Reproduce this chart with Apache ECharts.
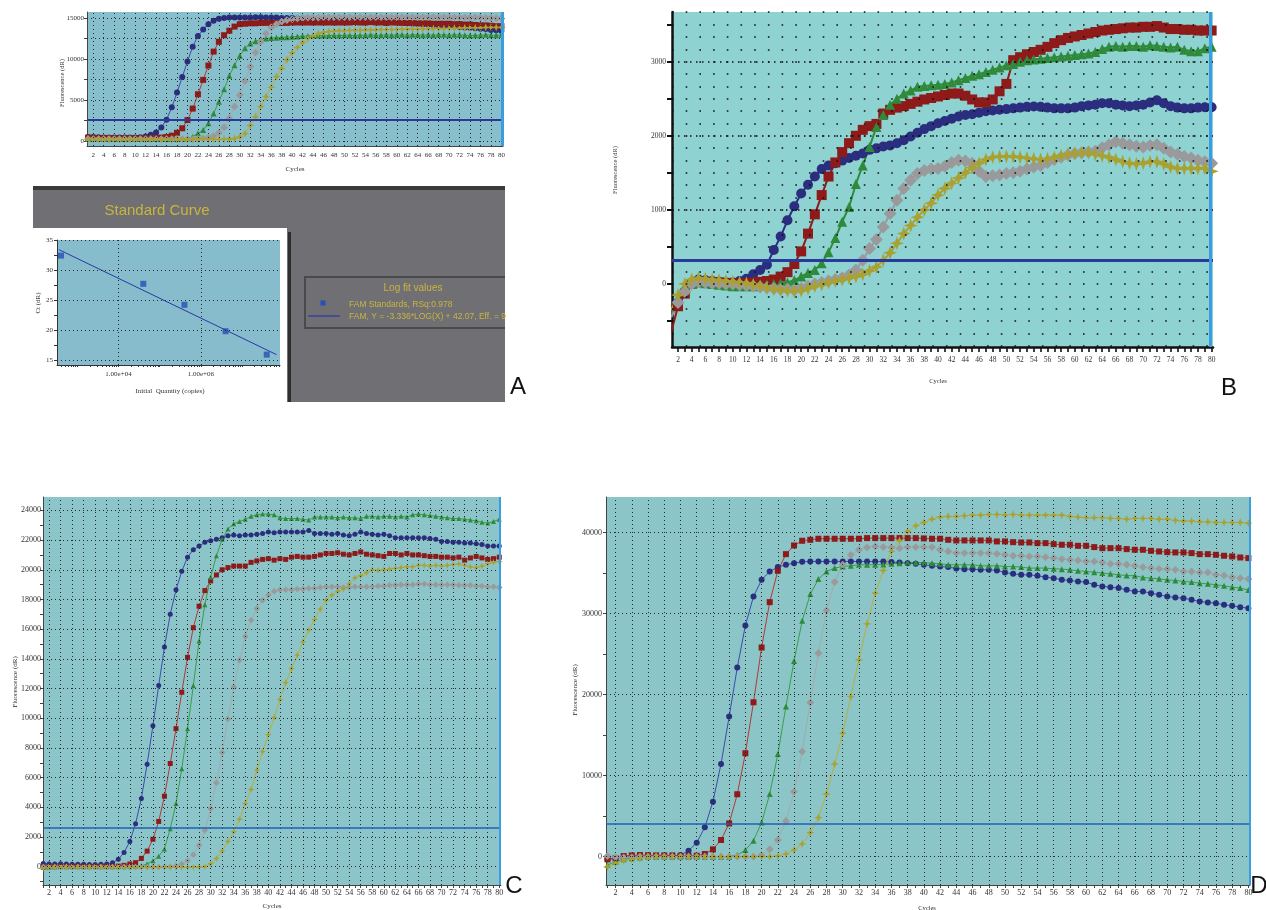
<!DOCTYPE html>
<html><head><meta charset="utf-8">
<script src="https://cdn.jsdelivr.net/npm/echarts@6/dist/echarts.min.js"></script>
<style>html,body{margin:0;padding:0;background:#fff}#c{width:1266px;height:910px}</style>
</head><body><div id="c"></div>
<script>
const cycles = Array.from({length: 80}, (_, i) => i + 1);

// ---------- Panel A (amplification) ----------
const aBlue = [500,480,450,430,420,420,420,420,430,440, 460,550,750,1050,1650,2600,4100,5900,7800,9700, 11500,12800,13600,14250,14650,14900,15000,15050,15050,15050, 15050,15050,15100,15100,15050,15050,15050,15000,15000,15000, 14950,14950,14950,14900,14900,14900,14850,14850,14800,14800, 14750,14700,14700,14650,14600,14600,14550,14500,14500,14450, 14400,14350,14300,14300,14250,14200,14150,14100,14050,14000, 13950,13900,13850,13800,13750,13700,13650,13550,13500,13450];
const aRed = [400,380,360,350,340,330,330,330,330,330, 330,340,350,380,420,480,650,1000,1550,2550, 3950,5700,7450,9200,10900,12100,12900,13450,13950,14250, 14300,14350,14350,14400,14400,14400,14400,14400,14400,14450, 14450,14450,14450,14450,14450,14450,14450,14450,14450,14450, 14450,14500,14450,14450,14500,14450,14450,14400,14450,14450, 14400,14400,14400,14350,14350,14350,14300,14300,14300,14300, 14250,14250,14200,14200,14150,14100,14100,14050,14000,14000];
const aGreen = [300,280,260,250,240,240,240,240,240,240, 240,240,240,240,240,240,240,250,260,300, 530,930,1350,2150,3350,4800,6300,7950,9250,10400, 11300,11900,12150,12400,12500,12550,12600,12650,12650,12700, 12750,12800,12800,12850,12850,12850,12850,12900,12850,12900, 12900,12850,12900,12900,12950,12900,12900,12950,12900,12950, 12950,12900,12950,12950,12900,12950,12900,12950,12950,12900, 12950,12950,12900,12850,12900,12900,12950,12900,12900,12950];
const aGray = [250,240,230,230,230,230,230,230,230,230, 230,230,230,230,230,230,230,230,230,230, 240,260,300,400,600,1000,1650,2750,4200,5600, 7300,9050,10800,12100,13100,13850,14250,14550,14750,14850, 14950,15000,15050,15050,15050,15100,15100,15100,15100,15100, 15100,15100,15100,15100,15100,15100,15100,15100,15100,15100, 15100,15100,15100,15100,15100,15100,15100,15100,15100,15100, 15050,15050,15050,15050,15050,15050,15000,15000,14950,14950];
const aYellow = [200,200,200,200,200,200,200,200,200,200, 200,200,200,200,200,200,200,200,200,200, 200,200,200,200,200,200,210,230,300,500, 900,1900,2950,4200,5400,6550,7850,8850,9900,10750, 11400,12000,12500,12800,13100,13250,13350,13400,13450,13450, 13500,13500,13500,13550,13550,13550,13600,13600,13600,13600, 13650,13650,13650,13650,13700,13700,13700,13700,13700,13750, 13750,13750,13800,13800,13800,13800,13850,13850,13850,13850];

// ---------- Panel A (standard curve) ----------
const stdQuantity = [400, 40000, 400000, 4000000, 40000000];
const stdCt = [32.4, 27.7, 24.2, 19.8, 15.9];
const fitQuantity = [355, 69000000];
const fitCt = [33.4, 15.9];

// ---------- Panel B ----------
const bBlue = [-450,-250,-100,20,60,50,40,30,20,20, 40,70,130,190,260,460,640,860,1050,1220, 1340,1450,1550,1600,1630,1665,1700,1730,1760,1810, 1830,1855,1870,1900,1940,1990,2040,2090,2130,2170, 2200,2230,2260,2280,2290,2310,2330,2340,2350,2360, 2370,2380,2390,2395,2390,2380,2370,2370,2370,2380, 2400,2410,2420,2440,2440,2420,2410,2400,2410,2420, 2450,2480,2440,2400,2380,2370,2370,2380,2385,2385];
const bRed = [-650,-300,-130,0,30,30,20,20,15,10, 5,10,20,30,40,60,100,160,270,440, 680,940,1200,1450,1640,1780,1900,2000,2080,2130, 2160,2300,2350,2380,2400,2430,2460,2490,2510,2530, 2550,2570,2570,2540,2490,2450,2450,2490,2600,2700, 3020,3060,3100,3130,3160,3200,3250,3290,3320,3340, 3360,3380,3400,3420,3430,3440,3450,3460,3460,3470, 3470,3480,3460,3440,3440,3430,3430,3420,3420,3420];
const bGreen = [-400,-200,-80,0,20,10,0,-10,-20,-30, -30,-30,-30,-20,-10,0,10,20,50,100, 150,190,280,430,620,840,1040,1350,1600,1850, 2120,2280,2420,2500,2570,2610,2660,2670,2680,2690, 2700,2720,2750,2780,2810,2830,2860,2890,2920,2950, 2970,3000,3020,3030,3040,3050,3060,3070,3080,3090, 3100,3110,3130,3170,3200,3210,3200,3210,3210,3200, 3220,3210,3200,3190,3200,3160,3140,3140,3180,3200];
const bGray = [-450,-250,-100,0,30,20,10,10,0,0, -10,-20,-30,-40,-50,-60,-70,-70,-80,-60, -30,0,20,40,60,80,120,190,320,480, 600,770,950,1130,1290,1400,1490,1530,1550,1560, 1590,1640,1670,1660,1630,1520,1450,1460,1470,1490, 1500,1520,1550,1580,1600,1640,1680,1710,1740,1760, 1770,1780,1790,1840,1880,1920,1900,1880,1860,1850, 1870,1880,1830,1780,1750,1720,1700,1670,1650,1630];
const bYellow = [-350,-150,0,60,80,70,60,50,40,30, 20,10,-10,-30,-50,-70,-80,-90,-100,-90, -60,-30,-10,20,40,60,80,100,130,180, 230,320,420,550,680,790,900,1000,1090,1200, 1290,1360,1430,1500,1570,1630,1680,1710,1720,1720, 1720,1710,1700,1690,1680,1690,1710,1730,1750,1760, 1770,1770,1750,1730,1710,1680,1650,1630,1620,1630, 1650,1650,1620,1580,1560,1560,1560,1560,1560,1520];

// ---------- Panel C ----------
const cBlue = [220,180,180,200,180,170,160,160,150,150, 160,180,270,500,950,1700,2900,4600,6900,9500, 12200,14800,17000,18650,19900,20850,21350,21600,21850,21950, 22050,22150,22300,22350,22300,22350,22350,22400,22450,22550, 22500,22550,22550,22550,22550,22550,22650,22450,22450,22450, 22400,22450,22350,22300,22400,22550,22450,22400,22350,22400, 22300,22150,22150,22150,22150,22150,22150,22100,22050,21900, 21900,21850,21850,21800,21800,21750,21700,21600,21600,21600];
const cRed = [0,30,30,30,30,30,30,30,30,30, 30,30,30,40,90,180,270,560,1050,1850, 3050,4750,6950,9300,11750,14100,16100,17550,18600,19250, 19650,20000,20150,20250,20250,20250,20500,20600,20700,20750, 20650,20750,20700,20850,20900,20850,20850,20900,21000,21100, 21100,21150,21050,21000,21100,21200,21050,21000,20950,20900, 21100,21100,21000,21100,21000,21000,20950,20900,20900,20850, 20850,20800,20850,20650,20800,20900,20800,20700,20750,20850];
const cGreen = [-50,-30,-20,0,0,0,0,0,0,0, 0,0,0,0,0,0,20,60,180,400, 700,1200,2550,4250,6600,9300,12200,15200,17650,19500, 20950,22050,22750,23100,23250,23400,23600,23700,23750,23750, 23700,23500,23450,23450,23450,23400,23350,23550,23550,23550, 23550,23500,23550,23500,23500,23450,23600,23600,23550,23600, 23600,23550,23600,23550,23700,23750,23700,23650,23600,23550, 23500,23450,23450,23400,23350,23300,23200,23150,23250,23400];
const cGray = [-20,-20,-20,-20,-20,-20,-20,-20,-20,-20, -20,-20,-20,-20,-20,-20,-20,-20,-20,-20, -20,-20,0,50,180,400,800,1450,2450,3900, 5650,7700,9950,12100,13900,15500,16600,17400,17950,18300, 18550,18650,18650,18650,18700,18700,18750,18750,18800,18850, 18850,18850,18800,18800,18850,18850,18850,18850,18900,18900, 18950,18950,19000,19000,19000,19050,19050,19000,19000,19000, 19000,19000,18950,18950,18950,18900,18900,18850,18850,18800];
const cYellow = [-100,-60,-50,-40,-40,-40,-40,-40,-40,-40, -40,-40,-40,-40,-40,-40,-40,-40,-40,-40, -40,-40,-40,-40,-40,-40,-30,-20,0,200, 550,1050,1700,2350,3200,4250,5200,6500,7750,8900, 10050,11250,12400,13350,14250,15150,15950,16650,17350,17950, 18300,18550,18700,19050,19450,19600,19800,20000,19950,20000, 20050,20100,20150,20200,20200,20300,20300,20250,20300,20250, 20300,20350,20400,20300,20200,20150,20250,20400,20500,20550];

// ---------- Panel D ----------
const dBlue = [-330,-200,-80,0,80,80,80,80,80,200, 740,1730,3620,6790,11440,17280,23330,28520,32100,34150, 35180,35720,36010,36210,36380,36420,36420,36420,36420,36420, 36420,36420,36420,36400,36400,36350,36300,36210,36130,36010, 35880,35800,35720,35550,35470,35470,35390,35390,35310,35060, 34890,34770,34770,34650,34480,34360,34150,34070,33950,33870, 33540,33330,33250,33130,32920,32710,32710,32510,32300,32100, 31970,31890,31690,31480,31360,31270,31070,30950,30780,30660];
const dRed = [-330,-200,80,160,200,180,160,160,160,80, 80,120,330,900,2060,4100,7700,12760,19050,25800, 31400,35270,37320,38390,38970,39090,39220,39220,39220,39220, 39220,39220,39300,39300,39300,39300,39300,39300,39300,39260, 39220,39220,39090,39010,39010,39010,39010,39010,38890,38890, 38800,38760,38760,38680,38680,38560,38480,38480,38350,38350, 38190,38060,38060,38060,37940,37860,37860,37730,37650,37570, 37530,37530,37450,37320,37320,37240,37120,37040,36910,36830];
const dGreen = [-1030,-620,-330,-200,-100,0,0,0,0,0, 0,0,0,0,0,0,200,820,1975,4200, 7740,12670,18520,24150,29090,32390,34240,35180,35600,35800, 35880,36010,36010,36010,36050,36130,36210,36290,36290,36290, 36210,36130,36010,36010,36010,36010,35880,35880,35880,35800, 35800,35720,35600,35600,35600,35510,35470,35390,35270,35180, 35100,34980,34890,34770,34690,34650,34440,34360,34280,34150, 34070,33950,33870,33740,33660,33540,33410,33250,33130,32900];
const dGray = [80,-80,-100,-80,0,0,0,0,0,0, 0,0,0,0,0,0,0,0,0,200, 900,2060,4400,8020,12960,19010,25100,30370,33870,36010, 37240,37860,38150,38270,38190,38150,38060,38190,38190,38190, 38190,37860,37650,37450,37450,37450,37450,37450,37360,37240, 37120,37120,37040,37040,36950,36830,36710,36620,36540,36420, 36420,36290,36130,36130,36010,35880,35720,35600,35510,35470, 35390,35180,35180,35060,35060,34770,34690,34480,34360,34240];
const dYellow = [-1230,-820,-490,-330,-200,-100,0,0,0,0, 0,0,0,0,0,0,0,0,0,0, 0,80,330,820,1560,2960,4810,7740,11440,15230, 19750,24280,28720,32510,35310,37650,39010,40120,40820,41230, 41640,41890,41970,41970,42060,42140,42140,42220,42220,42140, 42220,42140,42140,42140,42140,42140,42140,41970,41890,41810, 41810,41810,41730,41730,41640,41730,41730,41730,41640,41640, 41480,41400,41400,41310,41310,41230,41230,41230,41230,41150];

// thresholds (A, B, C, D)
const thresholds = [2560, 324, 2650, 4120];
const xTickLabels = [2,4,6,8,10,12,14,16,18,20,22,24,26,28,30,32,34,36,38,40,42,44,46,48,50,52,54,56,58,60,62,64,66,68,70,72,74,76,78,80];
const yLabelsA = [0, 5000, 10000, 15000];
const yLabelsB = [0, 1000, 2000, 3000];
const yLabelsC = [0,2000,4000,6000,8000,10000,12000,14000,16000,18000,20000,22000,24000];
const yLabelsD = [0, 10000, 20000, 30000, 40000];
const stdYLabels = [15, 20, 25, 30, 35];
const stdXLabels = [10000, 1000000];

// ---------- styling ----------
const FONT = '"Liberation Serif", "DejaVu Serif", serif';
const SANS = '"Liberation Sans", Arial, sans-serif';
const STAR = 'path://M0,-10L2.6,-2.6L10,0L2.6,2.6L0,10L-2.6,2.6L-10,0L-2.6,-2.6Z';
const SYM = {blue:'circle', red:'rect', green:'triangle', gray:'diamond', yellow:STAR};
const MCOL = {blue:'#2b2d7e', red:'#8e1a1a', green:'#2f8b3b', gray:'#9a9a9c', yellow:'#a9a132'};
const LCOL = {blue:'#3b4bb0', red:'#b33838', green:'#36a045', gray:'#a8a8a8', yellow:'#b8b03c'};

function range(a, b, s) { const r = []; for (let v = a; v <= b + 1e-9; v += s) r.push(Math.round(v * 1000) / 1000); return r; }

const panels = [
  { grid:{left:87, top:12, width:416, height:134}, bg:'#88bfcc', x:[0.8, 80.3], y:[-610, 15730],
    yLabels:yLabelsA, yTicks:range(0,15000,2500), yGrid:range(0,15000,2500), xGrid:range(2,78,2),
    xTicks:[], xTickLen:0, yTickLen:3, fs:7, xMargin:6, yMargin:3, axisW:1, axisCol:'#444',
    dash:[1,3], dotCol:'#2a2a2a', thr:thresholds[0], thrCol:'#2a3a9a', thrW:2, cursor:80.25, cursorW:3,
    size:6, lw:1, data:{blue:aBlue, red:aRed, green:aGreen, gray:aGray, yellow:aYellow} },
  { grid:{left:672, top:12, width:541, height:335}, bg:'#8fd2d2', x:[1.12, 80.2], y:[-850, 3670],
    yLabels:yLabelsB, yTicks:range(-500,3500,500), yGrid:range(-5,22,1).map(k => k*1000/6), xGrid:[],
    xTicks:range(1,80,1), xTickLen:5, yTickLen:5, fs:7.5, xMargin:9, yMargin:6, axisW:2.5, axisCol:'#111',
    dash:[1.6,12.1], dotCol:'#111', thr:thresholds[1], thrCol:'#2a3a9a', thrW:3, cursor:79.8, cursorW:3,
    size:10, lw:2, data:{blue:bBlue, red:bRed, green:bGreen, gray:bGray, yellow:bYellow} },
  { grid:{left:43, top:497, width:458, height:388}, bg:'#8bc5c9', x:[0.96, 80.3], y:[-1233, 24903],
    yLabels:yLabelsC, yTicks:range(-1000,24000,1000), yGrid:range(0,24000,2000), xGrid:range(2,78,2),
    xTicks:range(1,80,1), xTickLen:3, yTickLen:3, fs:8, xMargin:4, yMargin:2, axisW:1, axisCol:'#444',
    dash:[1,3], dotCol:'#2a2a2a', thr:thresholds[2], thrCol:'#2060b5', thrW:1.6, cursor:80.1, cursorW:2,
    size:5, lw:1, data:{blue:cBlue, red:cRed, green:cGreen, gray:cGray, yellow:cYellow} },
  { grid:{left:606, top:497, width:644, height:388}, bg:'#8bc5c7', x:[0.82, 80.2], y:[-3495, 44370],
    yLabels:yLabelsD, yTicks:range(0,40000,5000), yGrid:range(0,40000,10000), xGrid:range(2,78,2),
    xTicks:range(1,80,1), xTickLen:3, yTickLen:3, fs:8, xMargin:4, yMargin:4, axisW:1, axisCol:'#444',
    dash:[1,3], dotCol:'#2a2a2a', thr:thresholds[3], thrCol:'#2060b5', thrW:1.6, cursor:80.15, cursorW:2,
    size:6, lw:1, data:{blue:dBlue, red:dRed, green:dGreen, gray:dGray, yellow:dYellow} }
];

const grids = [], xAxes = [], yAxes = [], series = [];
const plain = v => String(v);

panels.forEach((p, gi) => {
  grids.push(Object.assign({show:true, backgroundColor:p.bg, borderWidth:0, outerBoundsMode:'none'}, p.grid));
  xAxes.push({type:'value', gridIndex:gi, min:p.x[0], max:p.x[1],
    axisLine:{show:true, onZero:false, lineStyle:{color:p.axisCol, width:p.axisW}},
    axisTick:{show:p.xTickLen > 0, customValues:p.xTicks, length:p.xTickLen, lineStyle:{color:p.axisCol, width:gi===1?1.6:1}},
    axisLabel:{customValues:xTickLabels, formatter:plain, fontFamily:FONT, fontSize:p.fs, color:'#333', margin:p.xMargin, hideOverlap:false},
    splitLine:{show:false}});
  yAxes.push({type:'value', gridIndex:gi, min:p.y[0], max:p.y[1],
    axisLine:{show:true, onZero:false, lineStyle:{color:p.axisCol, width:p.axisW}},
    axisTick:{show:true, customValues:p.yTicks, length:p.yTickLen, lineStyle:{color:p.axisCol, width:gi===1?2:1}},
    axisLabel:{customValues:p.yLabels, formatter:plain, fontFamily:FONT, fontSize:p.fs, color:'#333', margin:p.yMargin, hideOverlap:false},
    splitLine:{show:false}});
  const ml = [];
  const dot = {type:p.dash, color:p.dotCol, width:gi===1?1.6:1};
  p.yGrid.forEach(v => ml.push({yAxis:v, lineStyle:dot}));
  p.xGrid.forEach(v => ml.push({xAxis:v, lineStyle:dot}));
  if (gi === 1) [1000,2000,3000].forEach(v => ml.push({yAxis:v, lineStyle:{type:[1.5,4.5], color:'#111', width:1.5}}));
  ml.push({yAxis:p.thr, lineStyle:{type:'solid', color:p.thrCol, width:p.thrW}});
  ml.push({xAxis:p.cursor, lineStyle:{type:'solid', color:'#3a9de0', width:p.cursorW}});
  series.push({type:'line', xAxisIndex:gi, yAxisIndex:gi, data:[], z:1, silent:true,
    markLine:{silent:true, symbol:['none','none'], label:{show:false}, animation:false, emphasis:{disabled:true}, data:ml}});
  ['blue','red','green','gray','yellow'].forEach(k => {
    const sz = k === 'gray' ? p.size * 1.3 : k === 'yellow' ? p.size * 1.4 : p.size;
    series.push({type:'line', xAxisIndex:gi, yAxisIndex:gi, silent:true, z:3,
      data:cycles.map((c, i) => [c, p.data[k][i]]),
      symbol:SYM[k], symbolSize:sz, showAllSymbol:true,
      itemStyle:{color:MCOL[k]}, lineStyle:{color:gi===1?MCOL[k]:LCOL[k], width:p.lw}});
  });
});

// standard curve grid (index 4)
const SG = 4;
grids.push({show:true, left:57, top:240, width:223, height:125, backgroundColor:'#86bccb', borderWidth:0, outerBoundsMode:'none'});
const minorLog = [];
[2,3,4,5,6,7].forEach(d => { for (let k = 1; k <= 9; k++) { const v = k * Math.pow(10, d); if (v >= 320 && v <= 8.4e7) minorLog.push(v); } });
xAxes.push({type:'log', logBase:10, gridIndex:SG, min:320, max:8.4e7,
  axisLine:{show:true, onZero:false, lineStyle:{color:'#333', width:1}},
  axisTick:{show:true, customValues:minorLog, length:2, lineStyle:{color:'#333'}},
  axisLabel:{customValues:stdXLabels, formatter:v => Number(v).toExponential(2).replace('e+', 'e+0'), fontFamily:FONT, fontSize:7, color:'#333', margin:6},
  splitLine:{show:false}, minorTick:{show:false}});
yAxes.push({type:'value', gridIndex:SG, min:14.17, max:35,
  axisLine:{show:true, onZero:false, lineStyle:{color:'#333', width:1}},
  axisTick:{show:true, customValues:range(15,35,2.5), length:3, lineStyle:{color:'#333'}},
  axisLabel:{customValues:stdYLabels, formatter:plain, fontFamily:FONT, fontSize:7, color:'#333', margin:4},
  splitLine:{show:false}});
const sdot = {type:[1,3], color:'#2a2a2a', width:1};
series.push({type:'line', xAxisIndex:SG, yAxisIndex:SG, data:[], z:1, silent:true,
  markLine:{silent:true, symbol:['none','none'], label:{show:false}, animation:false,
    data:[...stdYLabels.map(v => ({yAxis:v, lineStyle:sdot})), ...stdXLabels.map(v => ({xAxis:v, lineStyle:sdot}))]}});
series.push({type:'line', xAxisIndex:SG, yAxisIndex:SG, silent:true, z:3, symbol:'none',
  data:fitQuantity.map((q, i) => [q, fitCt[i]]), lineStyle:{color:'#2b37a6', width:1}});
series.push({type:'scatter', xAxisIndex:SG, yAxisIndex:SG, silent:true, z:4, symbol:'rect', symbolSize:6,
  data:stdQuantity.map((q, i) => [q, stdCt[i]]), itemStyle:{color:'#2451b5'}});

// ---------- decorations ----------
const gold = '#c9b53c';
function txt(x, y, text, size, opts) {
  return Object.assign({type:'text', x, y, z:50, silent:true,
    style:{text, fontSize:size, fontFamily:FONT, fill:'#333', align:'center', verticalAlign:'middle'}}, opts || {});
}
function vtxt(x, y, text, size) {
  return {type:'text', x, y, rotation:Math.PI/2, z:50, silent:true,
    style:{text, fontSize:size, fontFamily:FONT, fill:'#333', align:'center', verticalAlign:'middle'}};
}
function letter(x, y, t) {
  return {type:'text', x, y, z:50, silent:true, style:{text:t, fontSize:24, fontFamily:SANS, fill:'#111', align:'center', verticalAlign:'middle'}};
}
const graphic = [
  {type:'rect', z:-10, silent:true, shape:{x:33, y:186, width:472, height:216}, style:{fill:'#707074'}},
  {type:'rect', z:-9, silent:true, shape:{x:33, y:186, width:472, height:4}, style:{fill:'#3a3a3a'}},
  {type:'rect', z:-8, silent:true, shape:{x:33, y:228, width:254, height:174}, style:{fill:'#ffffff'}},
  {type:'rect', z:-8, silent:true, shape:{x:288, y:232, width:3, height:170}, style:{fill:'#2e2e2e'}},
  {type:'polyline', z:-7, silent:true, shape:{points:[[505,277],[305,277],[305,328],[505,328]]}, style:{stroke:'#4a4a4a', lineWidth:2, fill:null}},
  {type:'text', x:157, y:211, z:50, silent:true, style:{text:'Standard Curve', fontSize:15, fontFamily:SANS, fill:gold, align:'center', verticalAlign:'middle'}},
  {type:'text', x:413, y:288, z:50, silent:true, style:{text:'Log fit values', fontSize:10, fontFamily:SANS, fill:gold, align:'center', verticalAlign:'middle'}},
  {type:'rect', z:50, silent:true, shape:{x:320.5, y:300.5, width:5, height:5}, style:{fill:'#2451b5'}},
  {type:'text', x:349, y:305, z:50, silent:true, style:{text:'FAM Standards, RSq:0.978', fontSize:8.5, fontFamily:SANS, fill:gold, align:'left', verticalAlign:'middle'}},
  {type:'line', z:50, silent:true, shape:{x1:308, y1:316, x2:340, y2:316}, style:{stroke:'#2b37a6', lineWidth:1.2}},
  {type:'text', x:349, y:316.5, z:50, silent:true, style:{text:'FAM, Y = -3.336*LOG(X) + 42.07, Eff. = 99', fontSize:8.5, fontFamily:SANS, fill:gold, align:'left', verticalAlign:'middle'}},
  {type:'rect', z:60, silent:true, shape:{x:506, y:296, width:90, height:30}, style:{fill:'#ffffff'}},
  // axis names
  vtxt(62, 83, 'Fluorescence (dR)', 6.5), txt(295, 169, 'Cycles', 7),
  vtxt(38, 303, 'Ct (dR)', 7), txt(170, 391, 'Initial  Quantity (copies)', 7),
  vtxt(615, 170, 'Fluorescence (dR)', 6.5), txt(938, 381, 'Cycles', 6.5),
  vtxt(15, 682, 'Fluorescence (dR)', 7), txt(272, 906, 'Cycles', 7),
  vtxt(575, 690, 'Fluorescence (dR)', 7), txt(927, 908, 'Cycles', 6.5),
  // panel letters
  letter(518, 387, 'A'), letter(1229, 388, 'B'), letter(514, 886, 'C'), letter(1259, 886, 'D')
];

const chart = echarts.init(document.getElementById('c'), null, {renderer:'canvas'});
chart.setOption({animation:false, backgroundColor:'#ffffff', grid:grids, xAxis:xAxes, yAxis:yAxes, series, graphic});
</script></body></html>
